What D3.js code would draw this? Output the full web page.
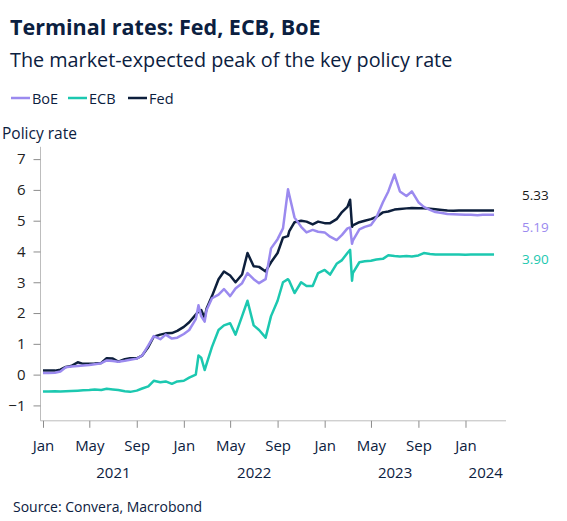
<!DOCTYPE html>
<html>
<head>
<meta charset="utf-8">
<script src="https://cdn.jsdelivr.net/npm/d3@7"></script>
<style>
  body { margin: 0; background: #fff; }
  svg { font-family: "Open Sans", "Noto Sans", sans-serif; }
</style>
</head>
<body>
<div id="chart"></div>
<script>
// Dates of the observations (semi-monthly, plus a few spike days)
var dates = [
  "2021-01-01", "2021-01-15", "2021-02-01", "2021-02-15", "2021-03-01", "2021-03-15",
  "2021-04-01", "2021-04-15", "2021-05-01", "2021-05-15", "2021-06-01", "2021-06-15",
  "2021-07-01", "2021-07-15", "2021-08-01", "2021-08-15", "2021-09-01", "2021-09-15",
  "2021-10-01", "2021-10-15", "2021-11-01", "2021-11-15", "2021-12-01", "2021-12-15",
  "2022-01-01", "2022-01-15", "2022-02-01", "2022-02-08", "2022-02-15", "2022-02-24",
  "2022-03-01", "2022-03-15", "2022-04-01", "2022-04-15", "2022-05-01", "2022-05-15",
  "2022-06-01", "2022-06-15", "2022-07-01", "2022-07-15", "2022-08-01", "2022-08-15",
  "2022-09-01", "2022-09-15", "2022-09-28", "2022-10-01", "2022-10-15", "2022-11-01",
  "2022-11-15", "2022-12-01", "2022-12-15",
  "2023-01-01", "2023-01-15", "2023-02-01", "2023-02-15", "2023-03-01", "2023-03-08",
  "2023-03-13", "2023-03-15", "2023-04-01", "2023-04-15", "2023-05-01", "2023-05-15",
  "2023-06-01", "2023-06-15", "2023-07-01", "2023-07-15", "2023-08-01", "2023-08-15",
  "2023-09-01", "2023-09-15", "2023-10-01", "2023-10-15", "2023-11-01", "2023-11-15",
  "2023-12-01", "2023-12-15",
  "2024-01-01", "2024-01-15", "2024-02-01", "2024-02-15", "2024-03-01", "2024-03-15"
];

var fed = [
  0.13, 0.13, 0.13, 0.16, 0.25, 0.28, 0.40, 0.35, 0.35, 0.36, 0.38, 0.53,
  0.52, 0.42, 0.50, 0.53, 0.53, 0.62, 0.90, 1.23, 1.30, 1.34, 1.35, 1.42,
  1.55, 1.70, 1.95, 2.05, 2.10, 1.85, 2.15, 2.55, 3.10, 3.35, 3.22, 3.00,
  3.25, 3.95, 3.52, 3.50, 3.35, 3.65, 3.95, 4.45, 4.50, 4.65, 4.95, 5.00,
  4.97, 4.88, 4.97,
  4.92, 4.92, 5.05, 5.28, 5.45, 5.68, 4.80, 4.85, 4.95, 5.00, 5.05, 5.12,
  5.27, 5.30, 5.36, 5.38, 5.40, 5.41, 5.40, 5.40, 5.39, 5.37, 5.35, 5.33,
  5.32, 5.33,
  5.33, 5.33, 5.33, 5.33, 5.33, 5.33
];

var boe = [
  0.05, 0.05, 0.06, 0.10, 0.24, 0.26, 0.28, 0.30, 0.31, 0.34, 0.37, 0.46,
  0.44, 0.42, 0.45, 0.48, 0.52, 0.62, 0.95, 1.25, 1.15, 1.30, 1.17, 1.20,
  1.32, 1.45, 1.80, 2.25, 1.90, 1.72, 2.10, 2.48, 2.60, 2.78, 2.55, 2.80,
  2.97, 3.30, 3.10, 2.97, 3.10, 4.10, 4.40, 4.75, 6.02, 5.85, 5.10, 4.80,
  4.62, 4.70, 4.64,
  4.62, 4.48, 4.37, 4.54, 4.75, 4.78, 4.25, 4.35, 4.72, 4.80, 4.86, 5.10,
  5.60, 5.95, 6.50, 5.95, 5.80, 5.95, 5.60, 5.45, 5.35, 5.28, 5.25, 5.22,
  5.21, 5.20,
  5.19, 5.19, 5.18, 5.19, 5.19, 5.19
];

var ecb = [
  -0.55, -0.55, -0.54, -0.55, -0.54, -0.53, -0.52, -0.51, -0.50, -0.48, -0.50, -0.46,
  -0.48, -0.50, -0.54, -0.56, -0.52, -0.45, -0.38, -0.20, -0.25, -0.22, -0.30, -0.22,
  -0.20, -0.10, 0.00, 0.62, 0.55, 0.15, 0.35, 0.90, 1.45, 1.60, 1.67, 1.30,
  1.90, 2.40, 1.60, 1.45, 1.20, 1.90, 2.40, 3.00, 3.10, 3.05, 2.65, 3.00,
  2.88, 2.88, 3.30,
  3.40, 3.25, 3.60, 3.72, 3.95, 4.05, 3.05, 3.30, 3.65, 3.68, 3.70, 3.74,
  3.76, 3.88, 3.85, 3.84, 3.85, 3.84, 3.87, 3.95, 3.92, 3.90, 3.90, 3.90,
  3.90, 3.90,
  3.89, 3.90, 3.90, 3.90, 3.90, 3.90
];

var seriesNames = ["BoE", "ECB", "Fed"];
var seriesColors = ["#9b8aef", "#1cc8b0", "#0d1f3c"];
var labelColors = ["#9b8aef", "#1cc8b0", "#1a1a1a"];
var yTicks = [-1, 0, 1, 2, 3, 4, 5, 6, 7];
var monthTicks = ["2021-01-01", "2021-05-01", "2021-09-01", "2022-01-01", "2022-05-01",
  "2022-09-01", "2023-01-01", "2023-05-01", "2023-09-01", "2024-01-01"];
var yearLabels = ["2021", "2022", "2023", "2024"];

function drawChart() {
  var w = 567;
  var h = 521;
  var parse = d3.timeParse("%Y-%m-%d");

  var svg = d3.select("#chart")
    .append("svg")
    .attr("width", w)
    .attr("height", h);

  var axisLeftX = 40.5;
  var axisEnd = parse("2024-04-15");

  var xScale = d3.scaleTime()
    .domain([parse("2021-01-01"), axisEnd])
    .range([43, 506]);

  var yScale = d3.scaleLinear()
    .domain([-1.5, 7.4])
    .range([420.8, 146.8]);

  // titles
  svg.append("text")
    .attr("x", 10).attr("y", 35)
    .attr("fill", "#0b2040")
    .style("font-size", "21.5px")
    .style("font-weight", "bold")
    .text("Terminal rates: Fed, ECB, BoE");

  svg.append("text")
    .attr("x", 10).attr("y", 67)
    .attr("fill", "#0b2040")
    .style("font-size", "19.8px")
    .text("The market-expected peak of the key policy rate");

  // legend
  var legendX = [11, 68, 128];
  seriesNames.forEach(function (name, i) {
    var g = svg.append("g").attr("transform", "translate(" + legendX[i] + ",98)");
    g.append("line")
      .attr("x1", 0).attr("x2", 19)
      .attr("stroke", seriesColors[i])
      .attr("stroke-width", 2.5);
    g.append("text")
      .attr("x", 21).attr("y", 5.5)
      .attr("fill", "#0b2040")
      .style("font-size", "14.5px")
      .text(name);
  });

  svg.append("text")
    .attr("x", 2).attr("y", 139)
    .attr("fill", "#0b2040")
    .style("font-size", "15.5px")
    .text("Policy rate");

  // y axis
  var yAxis = svg.append("g")
    .attr("transform", "translate(" + axisLeftX + ",0)")
    .call(d3.axisLeft(yScale).tickValues(yTicks).tickSize(7).tickPadding(8).tickFormat(d3.format("d")));
  yAxis.select(".domain").attr("stroke", "#bdbdbd").attr("d", "M0," + yScale(7.4) + "V" + yScale(-1.5));
  yAxis.selectAll(".tick line").attr("stroke", "#8c8c8c");
  yAxis.selectAll("text").attr("fill", "#222").style("font-size", "15px")
    .style("font-family", "'Open Sans', sans-serif");

  // x axis
  var xAxis = svg.append("g")
    .attr("transform", "translate(0," + yScale(-1.5) + ")")
    .call(d3.axisBottom(xScale)
      .tickValues(monthTicks.map(parse))
      .tickSize(7)
      .tickPadding(13)
      .tickFormat(d3.timeFormat("%b")));
  xAxis.select(".domain").attr("stroke", "#bdbdbd").attr("d", "M" + axisLeftX + ",0H" + xScale(axisEnd));
  xAxis.selectAll(".tick line").attr("stroke", "#8c8c8c");
  xAxis.selectAll("text").attr("fill", "#0b2040").style("font-size", "15px")
    .style("font-family", "'Open Sans', sans-serif");

  // year labels under month labels
  yearLabels.forEach(function (yr) {
    var a = xScale(parse(yr + "-01-01"));
    var b = Math.min(xScale(parse((+yr + 1) + "-01-01")), xScale(axisEnd));
    svg.append("text")
      .attr("x", (a + b) / 2)
      .attr("y", 478)
      .attr("text-anchor", "middle")
      .attr("fill", "#0b2040")
      .style("font-size", "15px")
      .text(yr);
  });

  // lines
  var series = [boe, ecb, fed];
  var drawOrder = [1, 2, 0];
  var line = d3.line()
    .x(function (d, i) { return xScale(parse(dates[i])); })
    .y(function (d) { return yScale(d); });

  drawOrder.forEach(function (k) {
    svg.append("path")
      .datum(series[k])
      .attr("fill", "none")
      .attr("stroke", seriesColors[k])
      .attr("stroke-width", 2.5)
      .attr("stroke-linejoin", "round")
      .attr("d", line);
  });

  // end labels
  var labelOffset = [12.5, 4.5, -15.5];
  series.forEach(function (s, k) {
    var v = s[s.length - 1];
    svg.append("text")
      .attr("x", 522)
      .attr("y", yScale(v) + labelOffset[k])
      .attr("dy", "0.35em")
      .attr("fill", labelColors[k])
      .style("font-size", "13.5px")
      .text(v.toFixed(2));
  });

  // source
  svg.append("text")
    .attr("x", 13).attr("y", 512)
    .attr("fill", "#0b2040")
    .style("font-size", "14px")
    .text("Source: Convera, Macrobond");
}

drawChart();
</script>
</body>
</html>
